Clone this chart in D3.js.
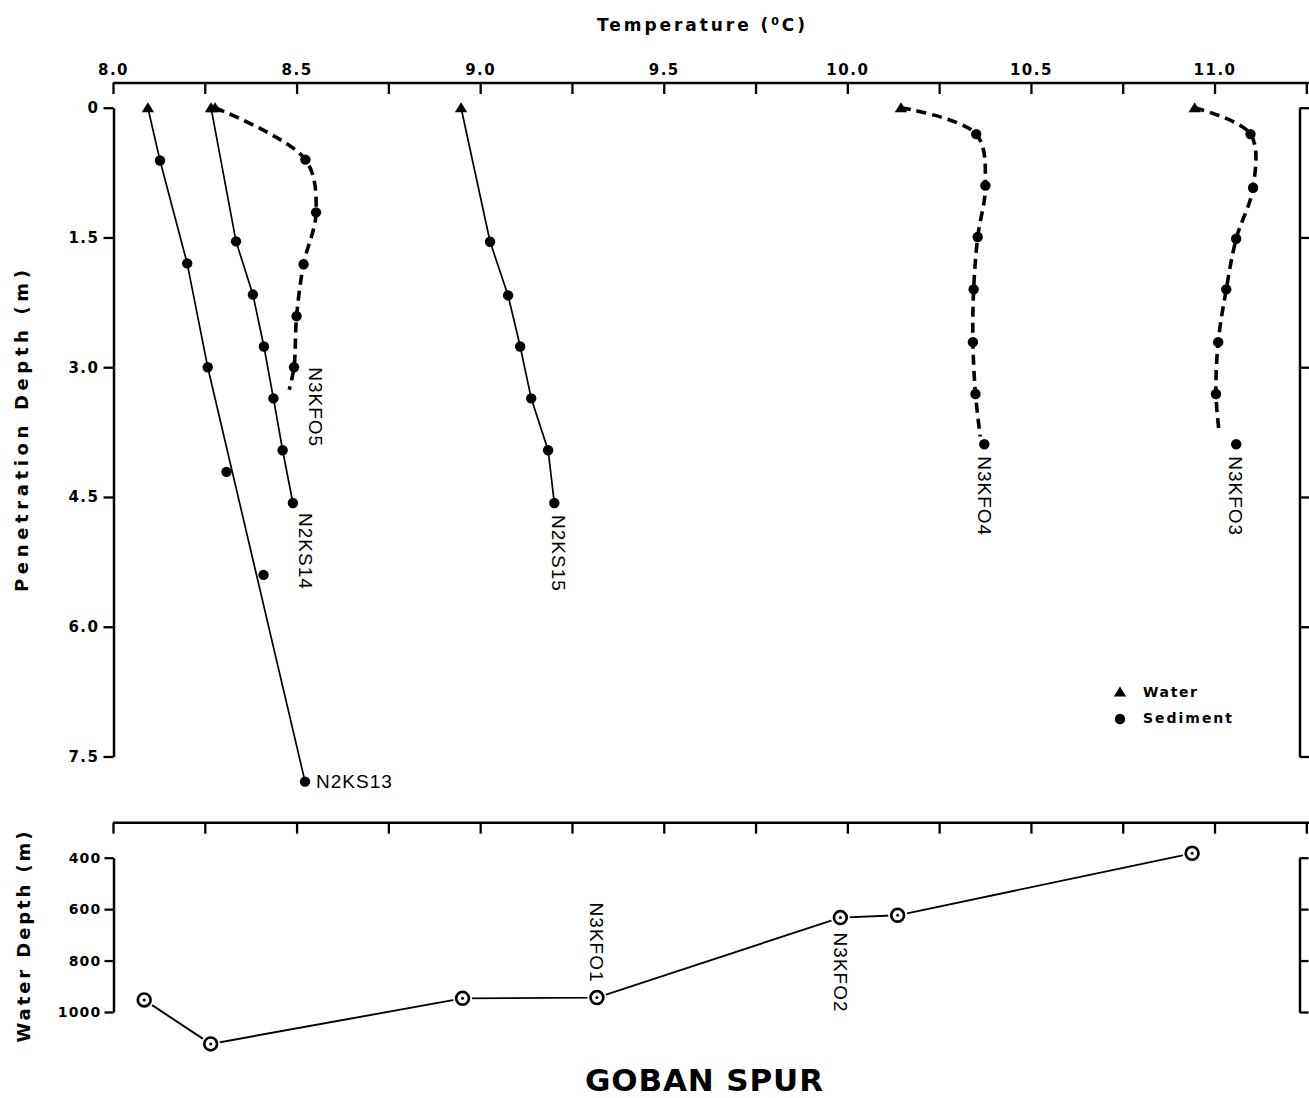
<!DOCTYPE html>
<html>
<head>
<meta charset="utf-8">
<script src="https://cdn.jsdelivr.net/npm/d3@7/dist/d3.min.js"></script>
<style>
  html, body { margin: 0; padding: 0; background: #fff; }
  svg { display: block; }
  .bold { font-family: "DejaVu Sans", "Liberation Sans", Arial, sans-serif; font-weight: bold; fill: #000; }
  .station { font-family: "Liberation Sans", Arial, sans-serif; font-weight: normal; fill: #000; }
</style>
</head>
<body>
<svg id="chart" width="1309" height="1098"></svg>
<script>
// ---- Temperature axis -------------------------------------------------
const tempTicks = [8.0, 8.25, 8.5, 8.75, 9.0, 9.25, 9.5, 9.75, 10.0, 10.25, 10.5, 10.75, 11.0, 11.25];
const tempTickLabels = ["8.0", "", "8.5", "", "9.0", "", "9.5", "", "10.0", "", "10.5", "", "11.0", ""];

// ---- Penetration depth axis (m) ---------------------------------------
const depthTicks = [0, 1.5, 3.0, 4.5, 6.0, 7.5];
const depthTickLabels = ["0", "1.5", "3.0", "4.5", "6.0", "7.5"];

// ---- Water depth axis (m) ---------------------------------------------
const waterTicks = [400, 600, 800, 1000];
const waterTickLabels = ["400", "600", "800", "1000"];

// ---- Temperature profiles: bottom-water value [T, depth] and sediment [T, depth]
const n2ks13Water = [8.095, 0];
const n2ks13Sediment = [[8.128, 0.61], [8.202, 1.80], [8.258, 3.00], [8.309, 4.21], [8.410, 5.40], [8.523, 7.79]];

const n2ks14Water = [8.267, 0];
const n2ks14Sediment = [[8.335, 1.545], [8.381, 2.16], [8.411, 2.76], [8.437, 3.36], [8.462, 3.96], [8.490, 4.57]];

const n3kf05Water = [8.278, 0];
const n3kf05Sediment = [[8.524, 0.60], [8.553, 1.21], [8.519, 1.81], [8.500, 2.41], [8.493, 3.00]];
const n3kf05Tail = [8.480, 3.26];

const n2ks15Water = [8.948, 0];
const n2ks15Sediment = [[9.027, 1.55], [9.076, 2.17], [9.109, 2.76], [9.139, 3.36], [9.185, 3.96], [9.202, 4.57]];

const n3kf04Water = [10.146, 0];
const n3kf04Sediment = [[10.351, 0.305], [10.376, 0.90], [10.355, 1.495], [10.344, 2.10], [10.342, 2.71], [10.349, 3.31], [10.373, 3.89]];
const n3kf04Tail = [10.362, 3.80];

const n3kf03Water = [10.946, 0];
const n3kf03Sediment = [[11.098, 0.305], [11.105, 0.925], [11.059, 1.515], [11.032, 2.10], [11.010, 2.71], [11.004, 3.31], [11.059, 3.89]];
const n3kf03Tail = [11.013, 3.77];

// ---- Station water depths against bottom-water temperature ------------
const stationTemp = [8.085, 8.266, 8.952, 9.318, 9.981, 10.137, 10.939];
const stationDepth = [953, 1124, 947, 944, 633, 624, 383];
const stationLabels = ["", "", "", "N3KFO1", "N3KFO2", "", ""];

// ---- Profile table: which sediment points the trend line runs through
const profiles = [
  { name: "N2KS13", water: n2ks13Water, sediment: n2ks13Sediment, through: [0, 1, 2, 5], tail: null, dashed: false,
    label: { dx: 11, dy: 0, rotate: false } },
  { name: "N2KS14", water: n2ks14Water, sediment: n2ks14Sediment, through: [0, 1, 2, 3, 4, 5], tail: null, dashed: false,
    label: { dx: 13, dy: 10, rotate: true } },
  { name: "N3KFO5", water: n3kf05Water, sediment: n3kf05Sediment, through: [0, 1, 2, 3, 4], tail: n3kf05Tail, dashed: true,
    label: { dx: 21, dy: 0, rotate: true } },
  { name: "N2KS15", water: n2ks15Water, sediment: n2ks15Sediment, through: [0, 1, 2, 3, 4, 5], tail: null, dashed: false,
    label: { dx: 4, dy: 12, rotate: true } },
  { name: "N3KFO4", water: n3kf04Water, sediment: n3kf04Sediment, through: [0, 1, 2, 3, 4, 5], tail: n3kf04Tail, dashed: true,
    label: { dx: 0, dy: 12, rotate: true } },
  { name: "N3KFO3", water: n3kf03Water, sediment: n3kf03Sediment, through: [0, 1, 2, 3, 4, 5], tail: n3kf03Tail, dashed: true,
    label: { dx: -1, dy: 12, rotate: true } }
];

// ---- Layout -----------------------------------------------------------
const W = 1309, H = 1098;
const svg = d3.select("#chart");

const x = d3.scaleLinear().domain([8.0, 11.25]).range([113, 1306.3]);
const yPen = d3.scaleLinear().domain([0, 7.5]).range([107.7, 756.5]);
const yWat = d3.scaleLinear().domain([400, 1000]).range([857.7, 1012]);

const topAxisY = 83;
const lowAxisY = 822.7;
const leftX = 113.5;
const rightX = 1299.5;

function styleAxis(g, width) {
  g.selectAll(".domain").attr("stroke", "#000").attr("stroke-width", width);
  g.selectAll(".tick line").attr("stroke", "#000").attr("stroke-width", 2.3);
  g.selectAll(".tick text").attr("class", "bold").attr("fill", "#000")
    .style("font-size", "15px").style("letter-spacing", "1.5px");
}

// Temperature axis along the top of the profile panel
const gTop = svg.append("g").attr("transform", `translate(0,${topAxisY})`)
  .call(d3.axisTop(x).tickValues(tempTicks).tickSizeInner(-11).tickSizeOuter(0).tickPadding(8)
    .tickFormat((d, i) => tempTickLabels[i]));
gTop.select(".domain").remove();
styleAxis(gTop, 2.5);
gTop.append("line").attr("x1", x(8.0)).attr("x2", W).attr("y1", 0).attr("y2", 0)
  .attr("stroke", "#000").attr("stroke-width", 2.6);

// Penetration depth axes, left (labelled) and right (frame)
const gLeft = svg.append("g").attr("transform", `translate(${leftX},0)`)
  .call(d3.axisLeft(yPen).tickValues(depthTicks).tickSize(10).tickSizeOuter(0).tickPadding(4)
    .tickFormat((d, i) => depthTickLabels[i]));
styleAxis(gLeft, 2.5);

const gRight = svg.append("g").attr("transform", `translate(${rightX},0)`)
  .call(d3.axisRight(yPen).tickValues(depthTicks).tickSize(10).tickSizeOuter(0).tickFormat(""));
styleAxis(gRight, 2.5);

// Temperature axis of the water-depth panel
const gLow = svg.append("g").attr("transform", `translate(0,${lowAxisY})`)
  .call(d3.axisTop(x).tickValues(tempTicks).tickSizeInner(-11).tickSizeOuter(0).tickFormat(""));
gLow.select(".domain").remove();
styleAxis(gLow, 2.5);
gLow.append("line").attr("x1", x(8.0)).attr("x2", W).attr("y1", 0).attr("y2", 0)
  .attr("stroke", "#000").attr("stroke-width", 2.6);

// Water depth axes
const gWL = svg.append("g").attr("transform", `translate(${leftX},0)`)
  .call(d3.axisLeft(yWat).tickValues(waterTicks).tickSize(9).tickSizeOuter(0).tickPadding(3)
    .tickFormat((d, i) => waterTickLabels[i]));
styleAxis(gWL, 2.5);
gWL.selectAll(".tick text").style("font-size", "14px").style("letter-spacing", "1.2px");

const gWR = svg.append("g").attr("transform", `translate(${rightX},0)`)
  .call(d3.axisRight(yWat).tickValues(waterTicks).tickSize(9).tickSizeOuter(0).tickFormat(""));
styleAxis(gWR, 2.5);

// ---- Axis titles --------------------------------------------------------
const title = svg.append("text").attr("class", "bold")
  .attr("x", 701).attr("y", 31).attr("text-anchor", "middle")
  .style("font-size", "17px").attr("textLength", 208).attr("lengthAdjust", "spacing");
title.append("tspan").text("Temperature (");
title.append("tspan").text("0").style("font-size", "11px").attr("dy", -6);
title.append("tspan").text("C)").attr("dy", 6);

svg.append("text").attr("class", "bold")
  .attr("transform", "translate(28,431) rotate(-90)").attr("text-anchor", "middle")
  .style("font-size", "18px").attr("textLength", 322).attr("lengthAdjust", "spacing")
  .text("Penetration Depth (m)");

svg.append("text").attr("class", "bold")
  .attr("transform", "translate(30,937) rotate(-90)").attr("text-anchor", "middle")
  .style("font-size", "18px").attr("textLength", 211).attr("lengthAdjust", "spacing")
  .text("Water Depth (m)");

svg.append("text").attr("class", "bold")
  .attr("x", 704).attr("y", 1091).attr("text-anchor", "middle")
  .style("font-size", "31px").attr("textLength", 238).attr("lengthAdjust", "spacing")
  .text("GOBAN SPUR");

// ---- Markers ----------------------------------------------------------
function trianglePath(cx, cy) {
  return `M${cx - 6.2},${cy + 4.6}L${cx + 6.2},${cy + 4.6}L${cx},${cy - 5.4}Z`;
}

// ---- Temperature profiles ----------------------------------------------
const gProf = svg.append("g");
const solidLine = d3.line().x(d => x(d[0])).y(d => yPen(d[1]));
const dashedLine = d3.line().x(d => x(d[0])).y(d => yPen(d[1])).curve(d3.curveCatmullRom.alpha(0.5));

profiles.forEach(p => {
  const nodes = [p.water].concat(p.through.map(i => p.sediment[i]));
  if (p.tail) nodes.push(p.tail);
  gProf.append("path")
    .attr("d", (p.dashed ? dashedLine : solidLine)(nodes))
    .attr("fill", "none").attr("stroke", "#000")
    .attr("stroke-width", p.dashed ? 3.6 : 1.7)
    .attr("stroke-dasharray", p.dashed ? "10,6" : null);
});

profiles.forEach(p => {
  gProf.selectAll(null).data(p.sediment).enter().append("circle")
    .attr("cx", d => x(d[0])).attr("cy", d => yPen(d[1])).attr("r", 5.2).attr("fill", "#000");
  gProf.append("path").attr("d", trianglePath(x(p.water[0]), yPen(p.water[1]))).attr("fill", "#000");

  const last = p.sediment[p.sediment.length - 1];
  const lx = x(last[0]) + p.label.dx, ly = yPen(last[1]) + p.label.dy;
  const t = gProf.append("text").attr("class", "station")
    .style("font-size", "19px").style("letter-spacing", "1px")
    .attr("dominant-baseline", "central").text(p.name);
  if (p.label.rotate) {
    t.attr("transform", `translate(${lx},${ly}) rotate(90)`).attr("text-anchor", "start");
  } else {
    t.attr("x", lx).attr("y", ly).attr("text-anchor", "start");
  }
});

// ---- Legend --------------------------------------------------------------
const legend = svg.append("g");
legend.append("path").attr("d", trianglePath(1120, 692)).attr("fill", "#000");
legend.append("circle").attr("cx", 1120).attr("cy", 719).attr("r", 5.2).attr("fill", "#000");
legend.append("text").attr("class", "bold").attr("x", 1143).attr("y", 692)
  .attr("dominant-baseline", "central").style("font-size", "14px").attr("textLength", 54)
  .attr("lengthAdjust", "spacing").text("Water");
legend.append("text").attr("class", "bold").attr("x", 1143).attr("y", 718)
  .attr("dominant-baseline", "central").style("font-size", "14px").attr("textLength", 89)
  .attr("lengthAdjust", "spacing").text("Sediment");

// ---- Water depth of each station -------------------------------------
const stations = stationTemp.map((t, i) => ({ t, depth: stationDepth[i], label: stationLabels[i] }));
const gSt = svg.append("g");
gSt.append("path")
  .attr("d", d3.line().x(d => x(d.t)).y(d => yWat(d.depth))(stations))
  .attr("fill", "none").attr("stroke", "#000").attr("stroke-width", 1.9);

const marks = gSt.selectAll("g.station").data(stations).enter().append("g")
  .attr("transform", d => `translate(${x(d.t)},${yWat(d.depth)})`);
marks.append("circle").attr("r", 9.5).attr("fill", "#fff");
marks.append("circle").attr("r", 6.4).attr("fill", "#fff").attr("stroke", "#000").attr("stroke-width", 2.7);
marks.append("circle").attr("r", 1.5).attr("fill", "#000");

// Station names: N3KFO1 above its mark, N3KFO2 below
const labelOffset = { "N3KFO1": -95, "N3KFO2": 15 };
gSt.selectAll("text").data(stations.filter(d => d.label)).enter().append("text")
  .attr("class", "station").style("font-size", "19px").style("letter-spacing", "1px")
  .attr("dominant-baseline", "central").attr("text-anchor", "start")
  .attr("transform", d => `translate(${x(d.t)},${yWat(d.depth) + labelOffset[d.label]}) rotate(90)`)
  .text(d => d.label);
</script>
</body>
</html>
